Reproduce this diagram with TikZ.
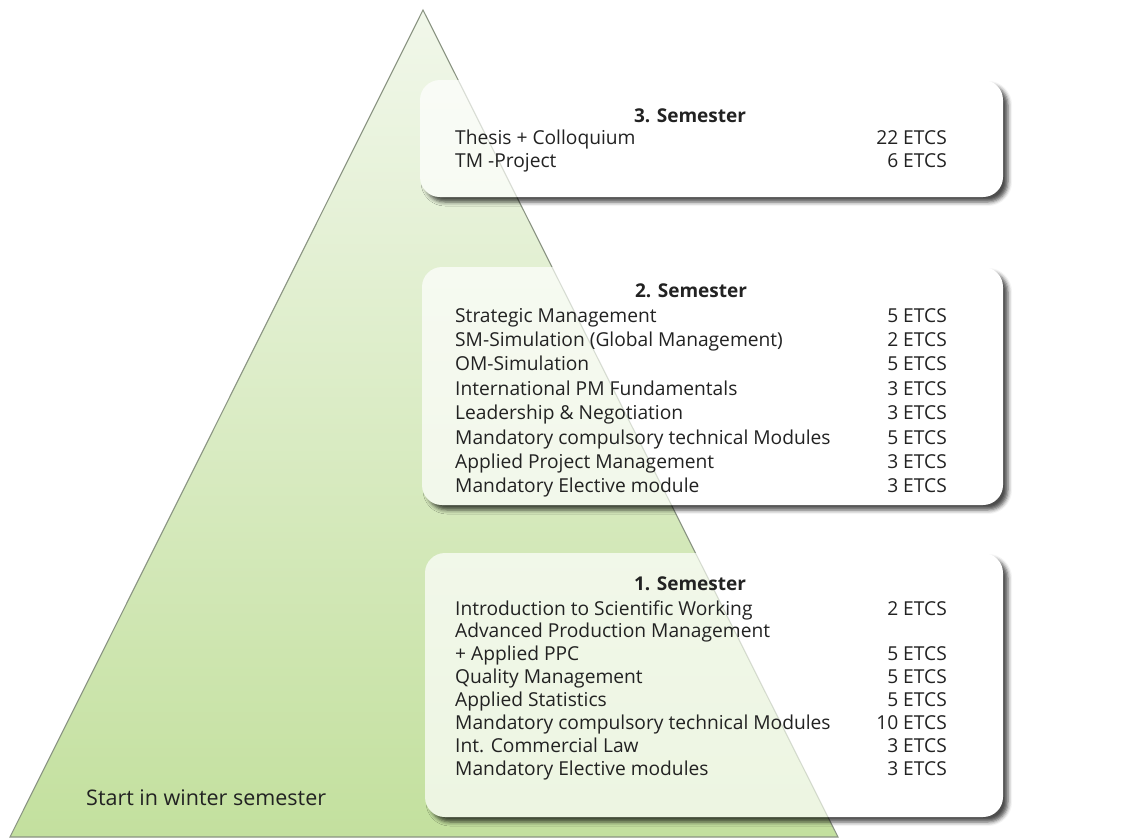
\documentclass[tikz,border=0pt]{standalone}
\usepackage{fontspec}
\setmainfont{Open Sans}
\usetikzlibrary{shadows.blur}

\definecolor{leafgreen}{HTML}{C3E09E}
\definecolor{palegreen}{HTML}{F1F7EA}
\definecolor{edgegray}{HTML}{8A9482}
\definecolor{inkgray}{HTML}{222222}

\begin{document}
\begin{tikzpicture}[x=1pt, y=-1pt, font=\fontsize{19.2pt}{23pt}\selectfont,
    semester/.style={rectangle, rounded corners=20pt, fill=white, inner sep=0pt,
        blur shadow={shadow xshift=5pt, shadow yshift=-5pt, shadow blur radius=4pt, shadow opacity=70}},
    pyramid/.style={top color=palegreen, bottom color=leafgreen},
    course/.style={anchor=base west, inner sep=0pt, text=inkgray},
    credits/.style={anchor=base east, inner sep=0pt, text=inkgray},
    heading/.style={anchor=base, inner sep=0pt, text=inkgray, font=\fontsize{19pt}{23pt}\selectfont\bfseries}]

\useasboundingbox (0,0) rectangle (1144,839);

% the pyramid
\coordinate (apex) at (423,10);
\coordinate (baseL) at (10,837);
\coordinate (baseR) at (838,837);
\draw[edgegray, line width=1.1pt, pyramid] (apex) -- (baseR) -- (baseL) -- cycle;

% three semester cards
\node[semester, minimum width=583pt, minimum height=117pt] (sem3) at (711.5,138.5) {};
\node[semester, minimum width=581pt, minimum height=238pt] (sem2) at (712.5,386) {};
\node[semester, minimum width=578pt, minimum height=264pt] (sem1) at (714,685) {};

% let the pyramid shine through the cards
\foreach \s in {1,2,3} {
    \begin{scope}
        \clip[rounded corners=20pt] (sem\s.south west) rectangle (sem\s.north east);
        \draw[edgegray, line width=1.1pt, pyramid, opacity=.3] (apex) -- (baseR) -- (baseL) -- cycle;
    \end{scope}
}

% 3. Semester
\node[heading] (head3) at (690,122) {3. Semester};
\foreach \course/\credits [count=\k from 0] in {Thesis + Colloquium/22 ETCS, TM -Project/6 ETCS} {
    \node[course] (s3c\k) at (455,144+23*\k) {\course};
    \node[credits] (s3e\k) at (947,144+23*\k) {\credits};
}

% 2. Semester
\node[heading] (head2) at (691,297) {2. Semester};
\foreach \course/\credits [count=\k from 0] in {
    Strategic Management/5 ETCS,
    SM-Simulation (Global Management)/2 ETCS,
    OM-Simulation/5 ETCS,
    International PM Fundamentals/3 ETCS,
    Leadership \& Negotiation/3 ETCS,
    Mandatory compulsory technical Modules/5 ETCS,
    Applied Project Management/3 ETCS,
    Mandatory Elective module/3 ETCS} {
    \node[course] (s2c\k) at (455,322+24.4*\k) {\course};
    \node[credits] (s2e\k) at (947,322+24.4*\k) {\credits};
}

% 1. Semester
\node[heading] (head1) at (690,590) {1. Semester};
\foreach \course/\credits [count=\k from 0] in {
    Introduction to Scientific Working/2 ETCS,
    Advanced Production Management/{},
    + Applied PPC/5 ETCS,
    Quality Management/5 ETCS,
    Applied Statistics/5 ETCS,
    Mandatory compulsory technical Modules/10 ETCS,
    Int. Commercial Law/3 ETCS,
    Mandatory Elective modules/3 ETCS} {
    \node[course] (s1c\k) at (455,615+22.9*\k) {\course};
    \node[credits] (s1e\k) at (947,615+22.9*\k) {\credits};
}

\node[course, font=\fontsize{21.5pt}{25pt}\selectfont] (start) at (86,805) {Start in winter semester};
\end{tikzpicture}
\end{document}
